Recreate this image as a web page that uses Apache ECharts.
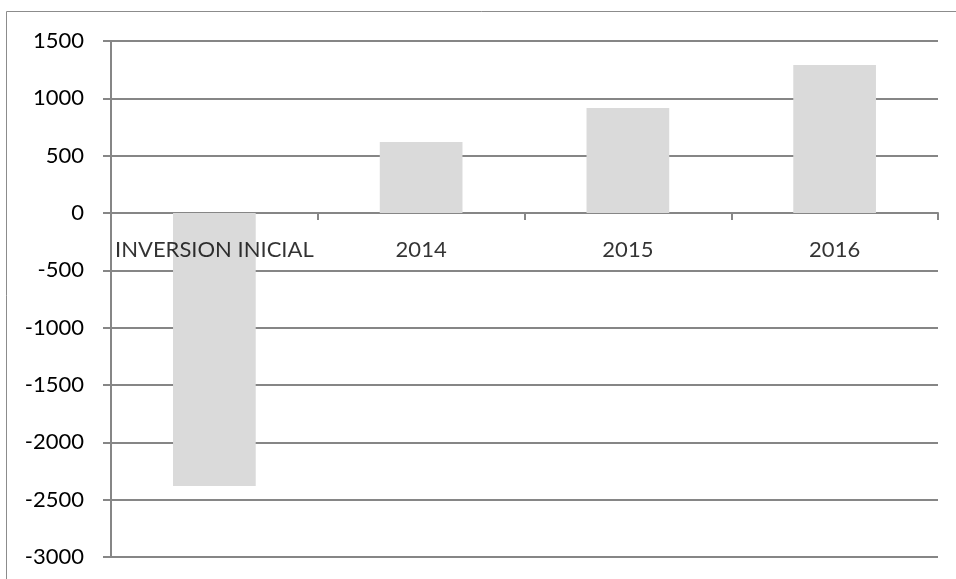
<!DOCTYPE html>
<html><head><meta charset="utf-8">
<script src="https://cdn.jsdelivr.net/npm/echarts@6/dist/echarts.min.js"></script>
<style>html,body{margin:0;padding:0;background:#fff}#c{width:956px;height:579px}</style>
</head><body><div id="c"></div>
<script>
const categories = ['INVERSION INICIAL', '2014', '2015', '2016'];
const values = [-2380, 620, 915, 1290];
const yTicks = { min: -3000, max: 1500, interval: 500 };

const chart = echarts.init(document.getElementById('c'));
const font = 'Lato, "Open Sans", sans-serif';
chart.setOption({
  animation: false,
  backgroundColor: '#ffffff',
  graphic: [{
    type: 'rect', shape: { x: 6.5, y: 11.5, width: 1000, height: 1000 },
    style: { fill: 'none', stroke: '#8c8c8c', lineWidth: 1 }, silent: true, z: 0
  }],
  grid: { left: 111, right: 18, top: 41, bottom: 22, outerBoundsMode: 'none' },
  xAxis: {
    type: 'category', data: categories,
    axisLine: { onZero: true, lineStyle: { color: '#868686', width: 2 } },
    axisTick: { show: true, length: 7, lineStyle: { color: '#868686', width: 2 } },
    axisLabel: { show: false },
    splitLine: { show: false }
  },
  yAxis: {
    type: 'value', min: yTicks.min, max: yTicks.max, interval: yTicks.interval,
    axisLine: { show: true, lineStyle: { color: '#868686', width: 2 } },
    axisTick: { show: true, length: 8, lineStyle: { color: '#868686', width: 2 } },
    axisLabel: { color: '#000', fontSize: 22, fontFamily: font, margin: 27, formatter: v => String(v) },
    splitLine: { show: true, lineStyle: { color: '#868686', width: 2 } }
  },
  series: [{
    type: 'bar', data: values, barWidth: '40%',
    itemStyle: { color: '#dadada' }
  }, {
    type: 'scatter', symbolSize: 0, silent: true, z: 5,
    data: categories.map(c => [c, 0]),
    label: {
      show: true, position: 'bottom', distance: 26,
      formatter: p => p.data[0],
      color: '#000', fontSize: 22, fontFamily: font
    }
  }]
});
</script></body></html>
